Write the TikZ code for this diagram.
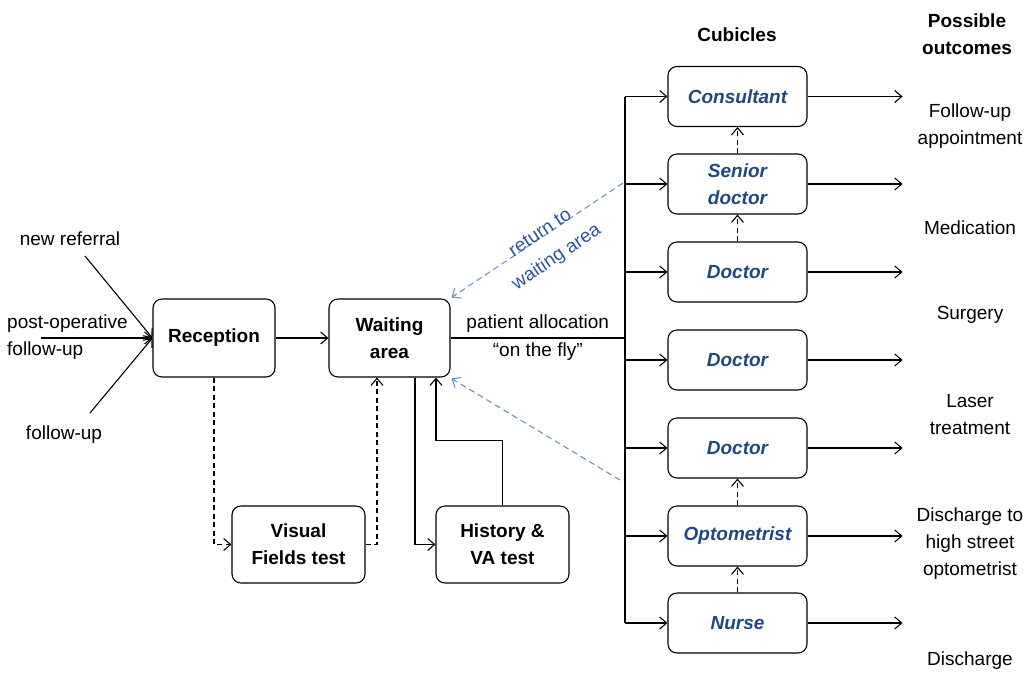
\documentclass[tikz,border=0pt]{standalone}
\usepackage{fontspec}
\setmainfont{Liberation Sans}
\usetikzlibrary{arrows.meta}
\definecolor{cubblue}{HTML}{1F497D}
\definecolor{dashblue}{HTML}{5A8AD0}
\definecolor{lblblue}{HTML}{2E5597}
\begin{document}
\begin{tikzpicture}[x=1pt,y=-1pt,
  every node/.style={font=\fontsize{19}{27}\selectfont},
  box/.style={draw, rounded corners=9pt, line width=1.1pt, align=center, inner sep=0pt,
    font=\fontsize{19}{27}\selectfont\bfseries},
  cub/.style={box, minimum width=139pt, minimum height=60pt,
    font=\fontsize{19}{27}\selectfont\bfseries\itshape, text=cubblue},
  arr/.style={line width=1.1pt, -{Straight Barb[length=7pt,width=12pt]}},
  darr/.style={arr, dashed, dash pattern=on 5pt off 3.5pt},
  barr/.style={line width=1pt, dashblue, dash pattern=on 6pt off 4pt, -{Straight Barb[length=7pt,width=12pt]}},
  lbl/.style={align=center}]
\useasboundingbox (0,0) rectangle (1032,673);

% main boxes
\node[box, minimum width=122pt, minimum height=78pt] (rec) at (214,338) {Reception};
\node[box, minimum width=121pt, minimum height=78pt] (wait) at (389.5,338) {Waiting\\area};
\node[box, minimum width=133pt, minimum height=77pt] (vis) at (298.5,544.5) {Visual\\Fields test};
\node[box, minimum width=133pt, minimum height=77pt] (hist) at (502.5,544.5) {History \&\\VA test};

% cubicles
\node[cub] (con) at (737.5,96.5) {Consultant};
\node[cub] (sen) at (737.5,184) {Senior\\doctor};
\node[cub] (doc1) at (737.5,272) {Doctor};
\node[cub] (doc2) at (737.5,360) {Doctor};
\node[cub] (doc3) at (737.5,448) {Doctor};
\node[cub] (opt) at (737.5,536) {Optometrist};
\node[cub] (nur) at (737.5,623) {Nurse};

% headers
\node[font=\fontsize{19}{27}\selectfont\bfseries] (hcub) at (737,35) {Cubicles};
\node[font=\fontsize{19}{27}\selectfont\bfseries, align=center] (hout) at (967,34) {Possible\\outcomes};

% outcomes
\node[lbl] (o1) at (970,126) {Follow-up\\appointment};
\node[lbl] (o2) at (970,228) {Medication};
\node[lbl] (o3) at (970,315) {Surgery};
\node[lbl] (o4) at (970,415) {Laser\\treatment};
\node[lbl] (o5) at (970,544) {Discharge to\\high street\\optometrist};
\node[lbl] (o6) at (970,661) {Discharge};

% inputs
\node (tnr) at (70,239) {new referral};
\node[anchor=west, align=left, inner sep=0pt] (tpo) at (7,337) {post-operative\\follow-up};
\node (tfu) at (64,435) {follow-up};
\coordinate (nr) at (85,256);
\coordinate (po) at (41,338);
\coordinate (fu) at (90,413);
\draw[arr] (nr) -- (rec.west);
\draw[arr] (po) -- (rec.west);
\draw[arr] (fu) -- (rec.west);

\draw[arr] (rec) -- (wait);

% bus
\coordinate (btop) at (625,96.5);
\coordinate (bbot) at (625,623);
\coordinate (bmid) at (625,338);
\draw[line width=1.6pt] (wait.east) -- (bmid)
  node[pos=0.5, above=1pt] (tpa) {patient allocation}
  node[pos=0.5, below=1pt] (tof) {``on the fly''};
\draw[line width=1.6pt] (btop) -- (bbot);
\foreach \c in {con,sen,doc1,doc2,doc3,opt,nur}{
  \draw[arr] (btop |- \c.west) -- (\c.west);
  \draw[arr] (\c.east) -- ++(95,0);
}

% escalation
\draw[darr] (sen.north) -- (con.south);
\draw[darr] (doc1.north) -- (sen.south);
\draw[darr] (opt.north) -- (doc3.south);
\draw[darr] (nur.north) -- (opt.south);

% tests
\draw[darr] (rec.south) |- (vis.west);
\draw[darr] (vis.east) -| ([xshift=-12.5pt]wait.south);
\draw[arr] ([xshift=25.5pt]wait.south) |- (hist.west);
\draw[arr] (hist.north) -- ++(0,-65) -| ([xshift=46.5pt]wait.south);

% return to waiting area
\coordinate (r1) at (623,183);
\coordinate (r2) at (620,480);
\draw[barr] (r1) -- ([shift={(1pt,1pt)}]wait.north east);
\draw[barr] (r2) -- ([shift={(1pt,-1pt)}]wait.south east);
\node[align=center, text=lblblue, rotate=34, font=\fontsize{19}{29}\selectfont] (tret) at (549,246) {return to\\waiting area};
\end{tikzpicture}
\end{document}
